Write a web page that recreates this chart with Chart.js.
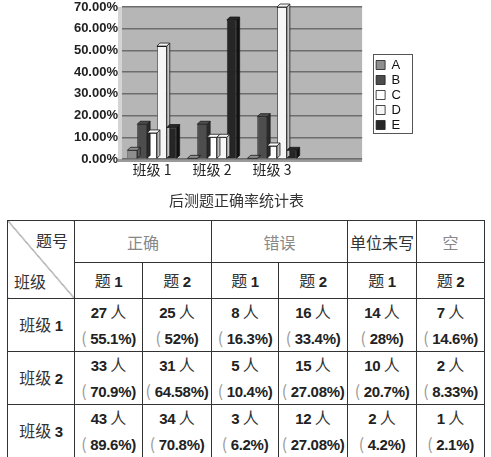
<!DOCTYPE html>
<html>
<head>
<meta charset="utf-8">
<script src="https://cdn.jsdelivr.net/npm/chart.js@4/dist/chart.umd.min.js"></script>
<style>
    html, body { margin: 0; padding: 0; background: #fff; }
    body { width: 491px; height: 457px; position: relative; overflow: hidden; }
    #chart-box { position: absolute; left: 0; top: 0; width: 491px; height: 214px; }
    #stats {
        position: absolute; left: 7px; top: 220px; width: 477px;
        border-collapse: collapse; table-layout: fixed;
        font-family: "Noto Sans CJK SC", sans-serif;
        color: #333; font-size: 16px;
    }
    #stats td { border: 1px solid #333; text-align: center; padding: 0; line-height: 24px; white-space: nowrap; overflow: visible; }
    #stats .num { font-family: "Liberation Sans", sans-serif; font-weight: bold; color: #222; font-size: 15px; letter-spacing: -0.3px; }
    #stats .par { color: #999; font-weight: normal; }
    #stats .grey { color: #888; }
    #stats .corner {
        position: relative;
        background: linear-gradient(to top right, transparent calc(50% - 0.6px), #444 50%, transparent calc(50% + 0.6px));
    }
    #stats .corner span { position: absolute; line-height: 20px; }
</style>
</head>
<body>
<div id="chart-box"><canvas id="rate-chart"></canvas></div>
<table id="stats"></table>
<script>
// chart data (percent)
const classes = ["班级 1", "班级 2", "班级 3"];
const seriesNames = ["A", "B", "C", "D", "E"];
const seriesA = [4, 0.3, 0.3];
const seriesB = [16, 16, 19.5];
const seriesC = [12, 10, 6];
const seriesD = [52, 10, 70];
const seriesE = [14.5, 64, 4];
const chartTitle = "后测题正确率统计表";

// table data
const groupHeads = ["正确", "错误", "单位未写", "空"];
const groupSpans = [2, 2, 1, 1];
const subHeads = ["题 1", "题 2", "题 1", "题 2", "题 1", "题 2"];
const counts = [
    [27, 25, 8, 16, 14, 7],
    [33, 31, 5, 15, 10, 2],
    [43, 34, 3, 12, 2, 1]
];
const rates = [
    ["55.1%", "52%", "16.3%", "33.4%", "28%", "14.6%"],
    ["70.9%", "64.58%", "10.4%", "27.08%", "20.7%", "8.33%"],
    ["89.6%", "70.8%", "6.2%", "27.08%", "4.2%", "2.1%"]
];

const fills = ["#8e8e8e", "#4d4d4d", "#ffffff", "#f6f6f6", "#262626"];
const sides = ["#5c5c5c", "#2a2a2a", "#bdbdbd", "#c4c4c4", "#111111"];

/* grey plot wall */
const wallPlugin = {
    id: "wall",
    beforeDraw(chart) {
        const a = chart.chartArea, ctx = chart.ctx;
        ctx.save();
        ctx.fillStyle = "#b6b6b6";
        ctx.fillRect(a.left, a.top, a.right - a.left, a.bottom - a.top);
        ctx.fillStyle = "#d4d4d4";
        ctx.fillRect(a.left - 4, a.top, 4, a.bottom - a.top + 3);
        ctx.fillStyle = "#9a9a9a";
        ctx.fillRect(a.left - 4, a.bottom, a.right - a.left + 4, 3);
        ctx.restore();
    }
};

/* side + top faces so the bars look a bit 3d */
const depthPlugin = {
    id: "depth",
    afterDatasetsDraw(chart) {
        const ctx = chart.ctx, d = 3;
        ctx.save();
        chart.data.datasets.forEach((ds, i) => {
            chart.getDatasetMeta(i).data.forEach((bar) => {
                if (bar.skip || isNaN(bar.y)) return;
                const r = bar.x + bar.width / 2, l = bar.x - bar.width / 2;
                ctx.lineWidth = 0.8;
                ctx.strokeStyle = "#1a1a1a";
                ctx.fillStyle = sides[i];
                ctx.beginPath();
                ctx.moveTo(r, bar.y);
                ctx.lineTo(r + d, bar.y - d);
                ctx.lineTo(r + d, bar.base - d);
                ctx.lineTo(r, bar.base);
                ctx.closePath();
                ctx.fill();
                ctx.stroke();
                ctx.fillStyle = fills[i];
                ctx.beginPath();
                ctx.moveTo(l, bar.y);
                ctx.lineTo(l + d, bar.y - d);
                ctx.lineTo(r + d, bar.y - d);
                ctx.lineTo(r, bar.y);
                ctx.closePath();
                ctx.fill();
                ctx.stroke();
            });
        });
        ctx.restore();
    }
};

/* nudge legend and draw its frame */
const legendFramePlugin = {
    id: "legendFrame",
    afterLayout(chart) {
        const lg = chart.legend;
        lg.left += 12;
        lg.right += 12;
        lg.top -= 14;
        lg.bottom -= 14;
    },
    afterDraw(chart) {
        const lg = chart.legend, ctx = chart.ctx;
        const h = lg.columnSizes[0].height;
        const top = lg.top + (lg.height - h) / 2;
        ctx.save();
        ctx.strokeStyle = "#555";
        ctx.lineWidth = 1;
        ctx.strokeRect(Math.round(lg.left) - 0.5, Math.round(top) - 3.5, Math.round(lg.width) + 2, h + 4);
        ctx.restore();
    }
};

const datasets = [seriesA, seriesB, seriesC, seriesD, seriesE].map((values, i) => {
    return {
        label: seriesNames[i],
        data: values,
        backgroundColor: fills[i],
        borderColor: "#1a1a1a",
        borderWidth: 0.8,
        barPercentage: 1,
        categoryPercentage: 0.82
    };
});

new Chart(document.getElementById("rate-chart"), {
    type: "bar",
    data: {
        labels: classes.concat([""]),
        datasets: datasets
    },
    plugins: [wallPlugin, depthPlugin, legendFramePlugin],
    options: {
        responsive: true,
        maintainAspectRatio: false,
        animation: false,
        layout: { padding: { left: 74, right: 92, top: 7, bottom: 3 } },
        scales: {
            x: {
                grid: { display: false, drawTicks: false },
                border: { display: false },
                ticks: {
                    padding: 4,
                    color: "#222",
                    font: { family: "'Noto Sans CJK SC', 'Liberation Sans'", size: 14, lineHeight: 1 }
                }
            },
            y: {
                min: 0,
                max: 70,
                afterFit: (axis) => {
                    axis.width = 48;
                    axis.paddingTop = 0;
                    axis.paddingBottom = 0;
                },
                grid: { color: "#6d6d6d", lineWidth: 1.4, drawTicks: false },
                border: { display: false },
                ticks: {
                    stepSize: 10,
                    autoSkip: false,
                    padding: 4,
                    color: "#222",
                    font: { family: "'Liberation Sans'", size: 13, weight: "bold" },
                    callback: (v) => v.toFixed(2) + "%"
                }
            }
        },
        plugins: {
            legend: {
                position: "right",
                align: "center",
                labels: {
                    boxWidth: 9,
                    boxHeight: 9,
                    padding: 2,
                    color: "#111",
                    font: { family: "'Liberation Sans'", size: 13 }
                }
            },
            title: {
                display: true,
                position: "bottom",
                text: chartTitle,
                color: "#333",
                padding: { top: 10, bottom: 2 },
                font: { family: "'Noto Sans CJK SC'", size: 15, weight: "normal" }
            },
            tooltip: { enabled: false }
        }
    }
});

/* table */
const colWidths = [67, 68, 69, 67, 69, 69, 68];
const rowHeights = [42, 36, 52, 52, 51];
const num = (t) => `<span class="num">${t}</span>`;
const table = document.getElementById("stats");
let html = "<colgroup>" + colWidths.map((w) => `<col style="width:${w}px">`).join("") + "</colgroup>";
html += `<tr style="height:${rowHeights[0]}px"><td rowspan="2" class="corner">` +
    `<span style="right:6px;top:9px">题号</span><span style="left:6px;bottom:7px">班级</span></td>`;
groupHeads.forEach((g, i) => {
    const cls = g === "单位未写" ? "" : " class=\"grey\"";
    html += `<td colspan="${groupSpans[i]}"${cls}>${g}</td>`;
});
html += "</tr>";
html += `<tr style="height:${rowHeights[1]}px">` +
    subHeads.map((s) => {
        const parts = s.split(" ");
        return `<td>${parts[0]} ${num(parts[1])}</td>`;
    }).join("") + "</tr>";
classes.forEach((c, r) => {
    const parts = c.split(" ");
    html += `<tr style="height:${rowHeights[r + 2]}px"><td>${parts[0]} ${num(parts[1])}</td>`;
    counts[r].forEach((n, k) => {
        html += `<td>${num(n)} 人<br><span class="par">(</span> ${num(rates[r][k] + ")")}</td>`;
    });
    html += "</tr>";
});
table.innerHTML = html;
</script>
</body>
</html>
